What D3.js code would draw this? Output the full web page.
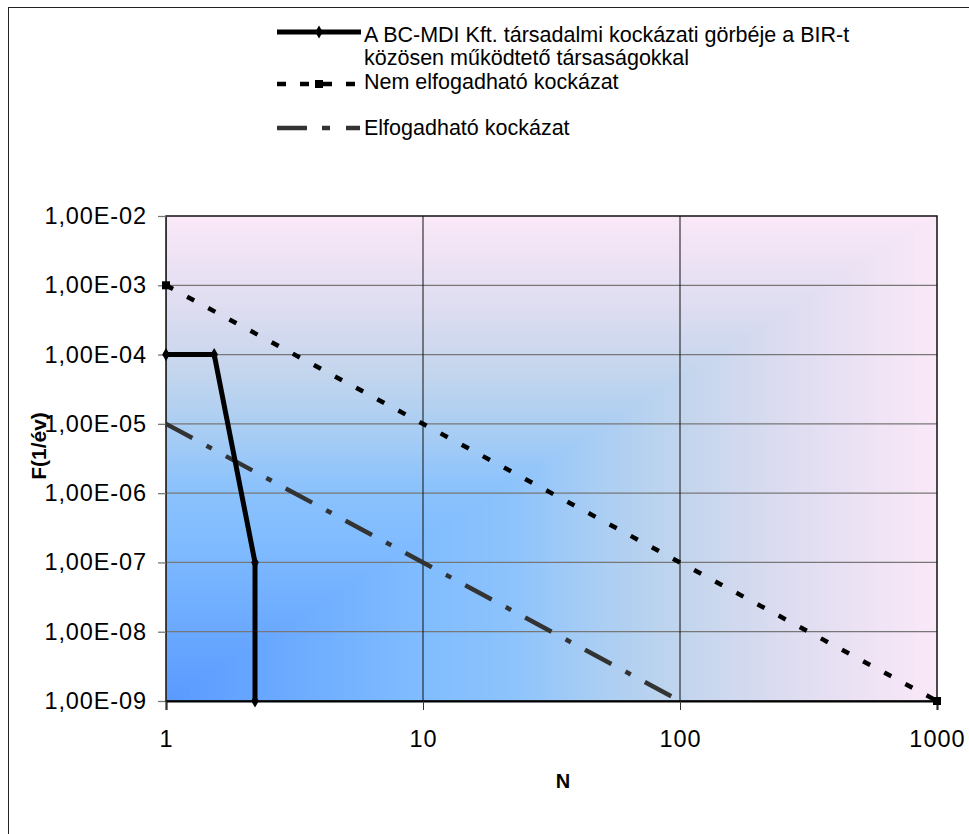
<!DOCTYPE html>
<html><head><meta charset="utf-8">
<script src="https://cdn.jsdelivr.net/npm/d3@7"></script>
<style>html,body{margin:0;padding:0;background:#fff;}svg{display:block;}</style>
</head><body>
<svg id="c" width="969" height="834"></svg>
<script>
// ---- data ----
const seriesNames = ["A BC-MDI Kft. társadalmi kockázati görbéje a BIR-t", "közösen működtető társaságokkal", "Nem elfogadható kockázat", "Elfogadható kockázat"];
const curveN = [1, 1.54, 2.22, 2.22];
const curveF = [1e-4, 1e-4, 1e-7, 1e-9];
const unaccN = [1, 1000];
const unaccF = [1e-3, 1e-9];
const accN = [1, 100];
const accF = [1e-5, 1e-9];
const xTicks = [1, 10, 100, 1000];
const xTickLabels = ["1", "10", "100", "1000"];
const yTicks = [1e-9, 1e-8, 1e-7, 1e-6, 1e-5, 1e-4, 1e-3, 1e-2];
const yTickLabels = ["1,00E-09", "1,00E-08", "1,00E-07", "1,00E-06", "1,00E-05", "1,00E-04", "1,00E-03", "1,00E-02"];
const xTitle = "N";
const yTitle = "F(1/év)";

// ---- layout ----
const L = 166, R = 937, T = 216, B = 701;
const svg = d3.select("#c");
const font = "'Liberation Sans', Arial, sans-serif";

// outer frame
svg.append("rect").attr("x", 8.5).attr("y", 7.5).attr("width", 1100).attr("height", 1000)
  .attr("fill", "#fff").attr("stroke", "#222").attr("stroke-width", 1);

const x = d3.scaleLog().domain([1, 1000]).range([L, R]);
const y = d3.scaleLog().domain([1e-9, 1e-2]).range([B, T]);

// background: rectangular gradient from the bottom-left corner
const col = d3.scaleLinear()
  .domain([0, 0.33, 0.45, 0.55, 0.67, 0.8, 0.9, 1])
  .range(["#5a9aff", "#80bcff", "#8dc3fc", "#a8cdf4", "#c2d5ed", "#dcdcf0", "#ece2f4", "#fae8f8"])
  .interpolate(d3.interpolateRgb);
const W = R - L, H = B - T, steps = 220;
const bg = svg.append("g");
for (let i = steps; i >= 1; i--) {
  const t = i / steps;
  bg.append("rect").attr("x", L).attr("y", B - H * t).attr("width", W * t).attr("height", H * t)
    .attr("fill", col(t - 0.5 / steps));
}

// horizontal gridlines
svg.append("g").selectAll("line").data(yTicks.slice(1, -1)).join("line")
  .attr("x1", L).attr("x2", R).attr("y1", d => y(d)).attr("y2", d => y(d))
  .attr("stroke", "#777").attr("stroke-width", 1.3);
// vertical gridlines
svg.append("g").selectAll("line").data(xTicks.slice(1, -1)).join("line")
  .attr("x1", d => x(d)).attr("x2", d => x(d)).attr("y1", T).attr("y2", B)
  .attr("stroke", "#111").attr("stroke-width", 1);

// plot border
svg.append("rect").attr("x", L).attr("y", T).attr("width", W).attr("height", H)
  .attr("fill", "none").attr("stroke", "#111").attr("stroke-width", 1.5);

// axes
const yAxis = d3.axisLeft(y).tickValues(yTicks).tickFormat((d, i) => yTickLabels[i]).tickSize(8).tickPadding(11);
const gy = svg.append("g").attr("transform", `translate(${L},0)`).call(yAxis);
gy.select(".domain").attr("stroke", "#333");
gy.selectAll(".tick line").attr("stroke", "#777").attr("stroke-width", 1.3);
gy.selectAll("text").attr("font-family", font).attr("font-size", 23.5).attr("letter-spacing", 0.9).attr("fill", "#000");

const xAxis = d3.axisBottom(x).tickValues(xTicks).tickFormat((d, i) => xTickLabels[i]).tickSize(9).tickPadding(20);
const gx = svg.append("g").attr("transform", `translate(0,${B})`).call(xAxis);
gx.select(".domain").attr("stroke", "#000").attr("stroke-width", 2);
gx.selectAll(".tick line").attr("stroke", "#333");
gx.selectAll("text").attr("font-family", font).attr("font-size", 23.5).attr("letter-spacing", 1).attr("fill", "#000");

// axis titles
svg.append("text").attr("x", 563).attr("y", 788).attr("text-anchor", "middle")
  .attr("font-family", font).attr("font-size", 20).attr("font-weight", "bold").text(xTitle);
svg.append("text").attr("transform", "translate(46,446) rotate(-90)").attr("text-anchor", "middle")
  .attr("font-family", font).attr("font-size", 21).attr("font-weight", "bold").text(yTitle);

// series
const line = d3.line().x(d => x(d[0])).y(d => y(d[1]));
const zip = (a, b) => a.map((v, i) => [v, b[i]]);

const accStyle = s => s.attr("fill", "none").attr("stroke", "#333").attr("stroke-width", 4.5).attr("stroke-dasharray", "30,16,6,16");
const unaccStyle = s => s.attr("fill", "none").attr("stroke", "#000").attr("stroke-width", 4.5).attr("stroke-dasharray", "8,16");
const curveStyle = s => s.attr("fill", "none").attr("stroke", "#000").attr("stroke-width", 5).attr("stroke-linejoin", "round");

svg.append("path").datum(zip(accN, accF)).attr("d", line).call(accStyle);
svg.append("path").datum(zip(unaccN, unaccF)).attr("d", line).call(unaccStyle);
svg.append("g").selectAll("rect").data(zip(unaccN, unaccF)).join("rect")
  .attr("x", d => x(d[0]) - 4).attr("y", d => y(d[1]) - 4).attr("width", 8).attr("height", 8).attr("fill", "#000");
svg.append("path").datum(zip(curveN, curveF)).attr("d", line).call(curveStyle);
const diamond = d3.symbol().type(d3.symbolDiamond).size(50);
svg.append("g").selectAll("path").data(zip(curveN, curveF)).join("path")
  .attr("transform", d => `translate(${x(d[0])},${y(d[1])})`).attr("d", diamond).attr("fill", "#000");

// legend
const lx1 = 277, lx2 = 361, tx = 364;
const lg = svg.append("g");
lg.append("line").attr("x1", lx1).attr("x2", lx2).attr("y1", 32).attr("y2", 32).call(curveStyle);
lg.append("path").attr("transform", `translate(${(lx1 + lx2) / 2},32)`).attr("d", diamond).attr("fill", "#000");
lg.append("line").attr("x1", lx1).attr("x2", lx2).attr("y1", 84).attr("y2", 84).call(unaccStyle).attr("stroke-dasharray", "9,14");
lg.append("rect").attr("x", (lx1 + lx2) / 2 - 4).attr("y", 80).attr("width", 8).attr("height", 8).attr("fill", "#000");
lg.append("line").attr("x1", lx1).attr("x2", lx2).attr("y1", 128).attr("y2", 128).call(accStyle).attr("stroke-dasharray", "30,15,8,16,14");
const legendTexts = [[seriesNames[0], 42], [seriesNames[1], 65], [seriesNames[2], 89], [seriesNames[3], 135]];
lg.selectAll("text").data(legendTexts).join("text")
  .attr("x", tx).attr("y", d => d[1]).attr("font-family", font).attr("font-size", 21.5).attr("fill", "#000")
  .text(d => d[0]);
</script>
</body></html>
